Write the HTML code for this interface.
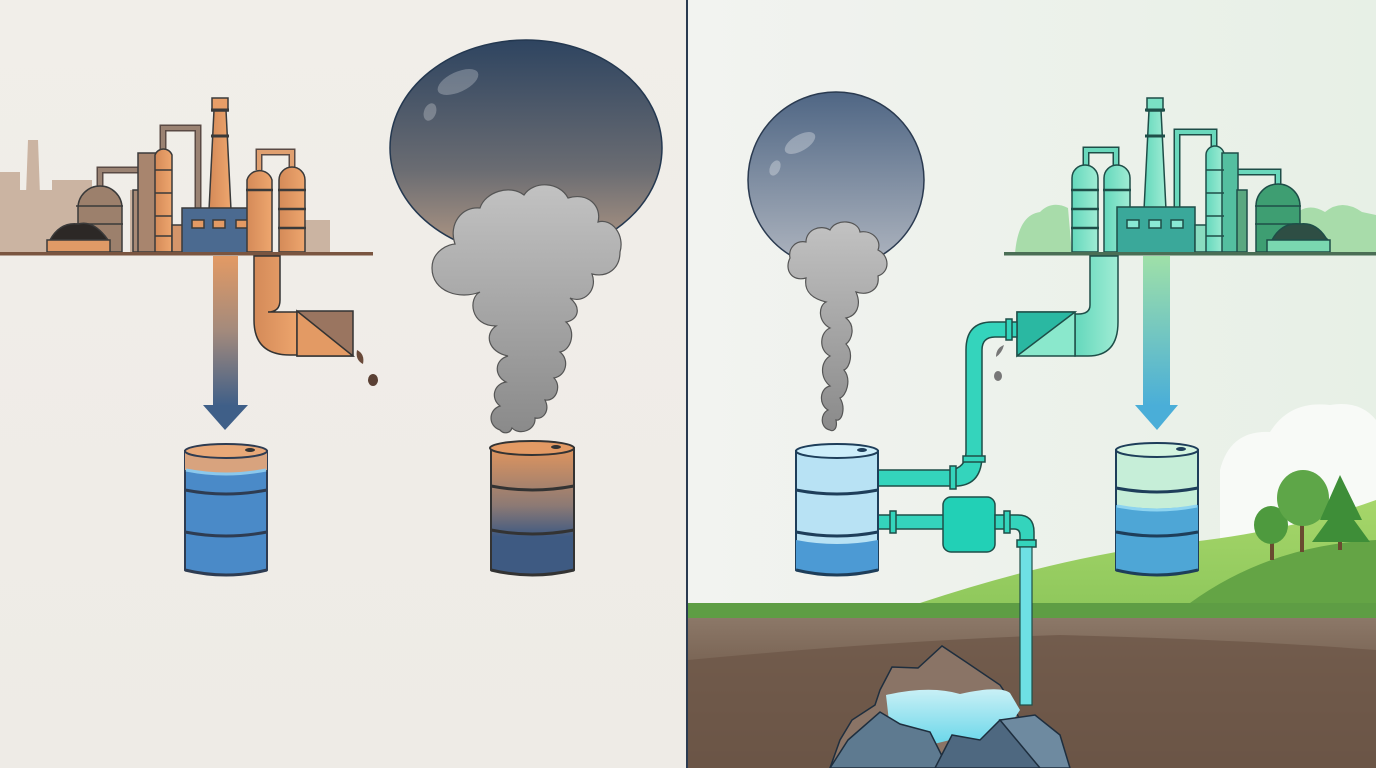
<!DOCTYPE html>
<html><head><meta charset="utf-8"><style>html,body{margin:0;padding:0;width:1376px;height:768px;overflow:hidden}svg{display:block}</style></head><body>
<svg width="1376" height="768" viewBox="0 0 1376 768" xmlns="http://www.w3.org/2000/svg">
<defs>
<linearGradient id="lbg" x1="0" y1="0" x2="0" y2="1"><stop offset="0" stop-color="#f1eee9"/><stop offset="1" stop-color="#eeebe6"/></linearGradient>
<linearGradient id="rbg" x1="0" y1="0" x2="1" y2="0"><stop offset="0" stop-color="#f2f3f0"/><stop offset="1" stop-color="#e7f0e6"/></linearGradient>
<linearGradient id="arrL" x1="0" y1="0" x2="0" y2="1"><stop offset="0" stop-color="#e39a64"/><stop offset="0.5" stop-color="#a38a7c"/><stop offset="1" stop-color="#3f5f88"/></linearGradient>
<linearGradient id="arrR" x1="0" y1="0" x2="0" y2="1"><stop offset="0" stop-color="#9fe0a8"/><stop offset="1" stop-color="#4aaed8"/></linearGradient>
<linearGradient id="bub1" x1="0" y1="0" x2="0" y2="1"><stop offset="0" stop-color="#2e4460"/><stop offset="0.6" stop-color="#6a6c72"/><stop offset="1" stop-color="#b59a85"/></linearGradient>
<linearGradient id="bub2" x1="0" y1="0" x2="0" y2="1"><stop offset="0" stop-color="#4f6684"/><stop offset="1" stop-color="#b0b6c0"/></linearGradient>
<linearGradient id="smoke" x1="0" y1="0" x2="0" y2="1"><stop offset="0" stop-color="#c2c2c2"/><stop offset="1" stop-color="#8a8a8a"/></linearGradient>
<linearGradient id="brl2" x1="0" y1="0" x2="0" y2="1"><stop offset="0" stop-color="#e0955e"/><stop offset="0.45" stop-color="#8d7a74"/><stop offset="0.7" stop-color="#3e5a82"/><stop offset="1" stop-color="#3e5a82"/></linearGradient>
<linearGradient id="cop" x1="0" y1="0" x2="1" y2="0"><stop offset="0" stop-color="#d48a58"/><stop offset="1" stop-color="#eea66e"/></linearGradient>
<linearGradient id="tq" x1="0" y1="0" x2="1" y2="0"><stop offset="0" stop-color="#64d8bc"/><stop offset="1" stop-color="#a0ecd4"/></linearGradient>
<linearGradient id="grnd" x1="0" y1="0" x2="0" y2="1"><stop offset="0" stop-color="#8c7868"/><stop offset="0.3" stop-color="#7a6555"/><stop offset="1" stop-color="#5e4a3d"/></linearGradient>
<linearGradient id="wat" x1="0" y1="0" x2="0" y2="1"><stop offset="0" stop-color="#c9f0f6"/><stop offset="1" stop-color="#60d4e8"/></linearGradient>
<linearGradient id="hill1" x1="0" y1="0" x2="0" y2="1"><stop offset="0" stop-color="#a6d66a"/><stop offset="1" stop-color="#8cc65a"/></linearGradient>
</defs>
<rect x="0" y="0" width="688" height="768" fill="url(#lbg)"/>
<rect x="688" y="0" width="688" height="768" fill="url(#rbg)"/>
<g fill="#cbb4a2">
<rect x="0" y="172" width="20" height="82"/><rect x="0" y="190" width="52" height="64"/><polygon points="24,250 28,140 38,140 42,250"/><rect x="52" y="180" width="40" height="74"/><rect x="300" y="220" width="30" height="34"/><rect x="130" y="190" width="12" height="64"/>
</g>
<g stroke="#3a3a3a" stroke-width="1.5">
<path d="M100,188 V170 H145" fill="none" stroke="#5a4a44" stroke-width="7"/>
<path d="M100,188 V170 H145" fill="none" stroke="#9a8272" stroke-width="4"/>
<path d="M163,150 V128 H198 V210" fill="none" stroke="#5a4a44" stroke-width="7"/>
<path d="M163,150 V128 H198 V210" fill="none" stroke="#9a8272" stroke-width="4"/>
<path d="M259,170 V152 H292 V170" fill="none" stroke="#5a4a44" stroke-width="7"/>
<path d="M259,170 V152 H292 V170" fill="none" stroke="#e0a070" stroke-width="4"/>
<path d="M78,252 V208 A22,22 0 0 1 122,208 V252 Z" fill="#9c806c"/>
<line x1="76" y1="206" x2="123" y2="206"/><line x1="76" y1="224" x2="123" y2="224"/>
<path d="M50,240 Q60,222 78,224 Q92,220 105,236 L108,240 Z" fill="#2c2826"/>
<rect x="47" y="240" width="63" height="12" fill="#e09a66"/>
<rect x="133" y="190" width="10" height="62" fill="#a88a76"/>
<rect x="138" y="153" width="18" height="99" fill="#a8856e"/>
<path d="M155,252 V155 A9,9 0 0 1 172,155 V252 Z" fill="url(#cop)"/>
<line x1="155" y1="170" x2="172" y2="170"/><line x1="155" y1="193" x2="172" y2="193"/><line x1="155" y1="216" x2="172" y2="216"/><line x1="155" y1="236" x2="172" y2="236"/>
<polygon points="214,110 226,110 231,210 209,210" fill="url(#cop)"/>
<rect x="212" y="98" width="16" height="13" fill="#e89e68"/>
<line x1="211" y1="110" x2="229" y2="110" stroke-width="3"/><line x1="211" y1="136" x2="229" y2="136" stroke-width="3"/>
<rect x="172" y="225" width="12" height="27" fill="#d4956a"/>
<rect x="182" y="208" width="76" height="46" fill="#4b6a90"/>
<rect x="192" y="220" width="12" height="8" fill="#e39a64"/><rect x="213" y="220" width="12" height="8" fill="#e39a64"/><rect x="236" y="220" width="12" height="8" fill="#e39a64"/>
<path d="M247,252 V180 A13,13 0 0 1 272,180 V252 Z" fill="url(#cop)"/>
<path d="M279,252 V180 A13,13 0 0 1 305,180 V252 Z" fill="url(#cop)"/>
<line x1="246" y1="190" x2="273" y2="190" stroke-width="2.5"/><line x1="278" y1="190" x2="306" y2="190" stroke-width="2.5"/><line x1="278" y1="209" x2="306" y2="209" stroke-width="2.5"/><line x1="278" y1="228" x2="306" y2="228" stroke-width="2.5"/>
</g>
<rect x="0" y="252" width="373" height="3.5" fill="#7a5540"/>
<rect x="213" y="256" width="25" height="150" fill="url(#arrL)"/>
<polygon points="203,405 248,405 225,430" fill="#3f5f88"/>
<path d="M254,256 V320 Q254,355 290,355 H300 V312 H268 Q280,312 280,300 V256 Z" fill="url(#cop)" stroke="#333" stroke-width="1.5"/>
<polygon points="297,311 353,311 353,356 297,356" fill="#9a7560" stroke="#333" stroke-width="1.5"/>
<polygon points="297,311 353,356 297,356" fill="#e39a64" stroke="#333" stroke-width="1.5"/>
<path d="M357,350 q8,4 6,14 q-8,-4 -6,-14z" fill="#6a4a3a"/>
<ellipse cx="373" cy="380" rx="5" ry="6" fill="#5a4034"/>
<g stroke="#2e3c52" stroke-width="2">
<path d="M185,451 V570 Q226,580 267,570 V451 Z" fill="#4a8ac8"/>
<path d="M185,451 V470 Q226,478 267,470 V451 Z" fill="#d8a37e" stroke="none"/>
<path d="M186,470 Q226,478 266,470" fill="none" stroke="#8bc8ec" stroke-width="3"/>
<ellipse cx="226" cy="451" rx="41" ry="7" fill="#e8a878"/>
<ellipse cx="250" cy="450" rx="5" ry="2" fill="#333" stroke="none"/>
<path d="M185,490 Q226,498 267,490" fill="none" stroke-width="3"/><path d="M185,532 Q226,540 267,532" fill="none" stroke-width="3"/>
<path d="M185,570 Q226,580 267,570" fill="none" stroke-width="3"/>
</g>
<ellipse cx="526" cy="148" rx="136" ry="108" fill="url(#bub1)" stroke="#243850" stroke-width="1.5"/>
<ellipse cx="458" cy="82" rx="22" ry="10" transform="rotate(-25 458 82)" fill="#fff" opacity="0.25"/>
<ellipse cx="430" cy="112" rx="6" ry="9" transform="rotate(20 430 112)" fill="#fff" opacity="0.25"/>
<g fill="url(#smoke)" stroke="#555" stroke-width="1.2">
<path d="M500,430 C488,426 488,410 500,406 C490,398 494,384 506,382 C494,376 494,360 508,356 C488,352 484,334 496,326 C470,326 468,298 480,292 C460,300 432,292 432,268 C432,250 450,244 455,244 C448,224 462,206 480,208 C485,192 510,184 524,195 C534,180 560,182 568,198 C588,192 602,206 598,222 C612,218 625,235 620,252 C620,268 608,278 592,274 C598,290 584,304 570,298 C582,308 578,320 566,322 C576,330 572,350 560,352 C570,360 566,376 554,378 C562,386 556,402 545,400 C550,410 544,420 535,418 C536,430 520,436 512,428 C510,434 503,434 500,430 Z"/>
</g>
<g stroke="#333" stroke-width="2">
<path d="M491,448 V570 Q532,580 574,570 V448 Z" fill="url(#brl2)"/>
<ellipse cx="532" cy="448" rx="42" ry="7" fill="#e39a64"/>
<ellipse cx="556" cy="447" rx="5" ry="2" fill="#333" stroke="none"/>
<path d="M491,486 Q532,494 574,486" fill="none" stroke-width="3"/><path d="M491,530 Q532,538 574,530" fill="none" stroke-width="3"/><path d="M491,570 Q532,580 574,570" fill="none" stroke-width="3"/>
</g>
<rect x="686" y="0" width="2" height="768" fill="#2a3a50"/>
<!-- RIGHT -->
<path d="M1220,470 Q1230,430 1270,432 Q1290,400 1330,405 Q1360,400 1376,420 V560 H1220 Z" fill="#fafbf8" opacity="0.9"/>
<path d="M688,603 L920,603 Q1050,560 1160,545 Q1280,535 1376,500 V620 H688 Z" fill="url(#hill1)"/>
<path d="M1190,603 Q1270,545 1376,540 V620 H1190 Z" fill="#64a445"/>
<rect x="688" y="603" width="688" height="16" fill="#5e9d44"/>
<rect x="688" y="618" width="688" height="150" fill="url(#grnd)"/>
<path d="M688,660 Q900,640 1060,635 Q1250,640 1376,650 V768 H688 Z" fill="#6e5849" opacity="0.8"/>
<polygon points="880,690 892,667 918,668 942,646 966,662 1000,685 1010,700 1020,720 1040,740 1060,760 1065,768 830,768 840,740 852,720 875,705" fill="#8a7466" stroke="#1e2e3e" stroke-width="1.5"/>
<path d="M886,695 Q930,685 960,694 Q1000,685 1010,693 L1020,710 L1000,740 L975,748 L950,740 L910,750 L890,730 Z" fill="url(#wat)"/>
<polygon points="848,740 880,712 900,724 930,732 948,768 830,768" fill="#5e7a90" stroke="#1e2e3e" stroke-width="1.5"/>
<polygon points="935,768 952,735 980,740 1000,720 1030,730 1050,750 1060,768" fill="#4e6880" stroke="#1e2e3e" stroke-width="1.5"/>
<polygon points="1000,720 1035,715 1060,735 1070,768 1040,768" fill="#6e8aa0" stroke="#1e2e3e" stroke-width="1.5"/>
<rect x="1270" y="525" width="4" height="35" fill="#6a4a30"/><ellipse cx="1271" cy="525" rx="17" ry="19" fill="#4e9a3e"/>
<rect x="1300" y="500" width="4" height="52" fill="#6a4a30"/><ellipse cx="1303" cy="498" rx="26" ry="28" fill="#5ea648"/>
<rect x="1338" y="520" width="4" height="30" fill="#6a4a30"/><polygon points="1340,475 1362,520 1354,520 1370,542 1312,542 1328,520 1320,520" fill="#3e8e38"/>
<!-- right factory -->
<path d="M1015,254 Q1018,215 1040,212 Q1052,200 1068,208 L1072,254 Z" fill="#a8dcaa"/>
<path d="M1290,220 Q1305,200 1325,212 Q1342,198 1362,212 L1376,215 V254 H1290 Z" fill="#a8dcaa"/>
<g stroke="#1e4e48" stroke-width="1.5">
<path d="M1086,168 V150 H1116 V168" fill="none" stroke="#1e4e48" stroke-width="7"/><path d="M1086,168 V150 H1116 V168" fill="none" stroke="#6ad8bc" stroke-width="4"/>
<path d="M1177,210 V132 H1214 V150" fill="none" stroke="#1e4e48" stroke-width="7"/><path d="M1177,210 V132 H1214 V150" fill="none" stroke="#6ad8bc" stroke-width="4"/>
<path d="M1236,172 H1278 V188" fill="none" stroke="#1e4e48" stroke-width="7"/><path d="M1236,172 H1278 V188" fill="none" stroke="#6ad8bc" stroke-width="4"/>
<path d="M1072,252 V178 A13,13 0 0 1 1098,178 V252 Z" fill="url(#tq)"/>
<path d="M1104,252 V178 A13,13 0 0 1 1130,178 V252 Z" fill="url(#tq)"/>
<line x1="1071" y1="190" x2="1099" y2="190" stroke-width="2.5"/><line x1="1071" y1="209" x2="1099" y2="209" stroke-width="2.5"/><line x1="1071" y1="228" x2="1099" y2="228" stroke-width="2.5"/><line x1="1103" y1="190" x2="1131" y2="190" stroke-width="2.5"/>
<polygon points="1149,110 1161,110 1166,210 1144,210" fill="url(#tq)"/>
<rect x="1147" y="98" width="16" height="13" fill="#7ae0c4"/>
<line x1="1145" y1="110" x2="1165" y2="110" stroke-width="3"/><line x1="1145" y1="136" x2="1165" y2="136" stroke-width="3"/>
<rect x="1117" y="207" width="78" height="47" fill="#3aa89a"/>
<rect x="1127" y="220" width="12" height="8" fill="#8ae8d4"/><rect x="1149" y="220" width="12" height="8" fill="#8ae8d4"/><rect x="1171" y="220" width="12" height="8" fill="#8ae8d4"/>
<rect x="1195" y="225" width="12" height="27" fill="#8adcc0"/>
<path d="M1206,252 V155 A9,9 0 0 1 1224,155 V252 Z" fill="url(#tq)"/>
<rect x="1222" y="153" width="16" height="99" fill="#54bfa0"/>
<rect x="1237" y="190" width="10" height="62" fill="#5aa880"/>
<line x1="1206" y1="170" x2="1224" y2="170"/><line x1="1206" y1="193" x2="1224" y2="193"/><line x1="1206" y1="216" x2="1224" y2="216"/><line x1="1206" y1="236" x2="1224" y2="236"/>
<path d="M1256,252 V206 A22,22 0 0 1 1300,206 V252 Z" fill="#3e9e72"/>
<line x1="1255" y1="206" x2="1301" y2="206"/><line x1="1255" y1="224" x2="1301" y2="224"/>
<path d="M1272,240 Q1282,222 1300,224 Q1316,222 1326,238 L1328,240 Z" fill="#2e4e44"/>
<rect x="1267" y="240" width="63" height="12" fill="#7ad8b0"/>
</g>
<rect x="1004" y="252" width="372" height="3.5" fill="#4a6e55"/>
<rect x="1143" y="256" width="27" height="150" fill="url(#arrR)"/>
<polygon points="1135,405 1178,405 1157,430" fill="#4aaed8"/>
<g stroke="#1e4e48" stroke-width="1.5">
<path d="M1090,256 V305 Q1090,314 1078,314 H1075 V356 H1088 Q1118,356 1118,322 V256 Z" fill="url(#tq)"/>
<polygon points="1017,312 1075,312 1075,356 1017,356" fill="#8ae8cc"/>
<polygon points="1017,312 1075,312 1017,356" fill="#2ab8a2"/>
<path d="M1017,322 H992 Q966,322 966,350 V452 Q966,468 950,470 H878 V486 H958 Q982,484 982,455 V350 Q982,337 995,337 H1017 Z" fill="#34d4bc"/>
<rect x="1006" y="319" width="6" height="21" fill="#34d4bc"/>
<rect x="963" y="456" width="22" height="6" fill="#34d4bc"/>
<rect x="950" y="466" width="6" height="23" fill="#34d4bc"/>
<path d="M878,515 H944 V529 H878 Z" fill="#34d4bc"/>
<rect x="890" y="511" width="6" height="22" fill="#34d4bc"/>
<rect x="943" y="497" width="52" height="55" rx="8" fill="#22d0b6"/>
<path d="M995,515 H1018 Q1034,515 1034,532 V540 H1020 V535 Q1020,529 1014,529 H995 Z" fill="#34d4bc"/>
<rect x="1004" y="511" width="6" height="22" fill="#34d4bc"/>
<rect x="1017" y="540" width="19" height="7" fill="#34d4bc"/>
</g>
<rect x="1020" y="547" width="12" height="158" fill="#6ee0e4" stroke="#1e4e48" stroke-width="1.2"/>
<path d="M1004,345 q-2,8 -8,12 q0,-9 8,-12z" fill="#777"/>
<ellipse cx="998" cy="376" rx="4" ry="5" fill="#777"/>
<circle cx="836" cy="180" r="88" fill="url(#bub2)" stroke="#2a3a50" stroke-width="1.5"/>
<ellipse cx="800" cy="143" rx="17" ry="8" transform="rotate(-30 800 143)" fill="#fff" opacity="0.3"/>
<ellipse cx="775" cy="168" rx="5" ry="8" transform="rotate(25 775 168)" fill="#fff" opacity="0.3"/>
<g fill="url(#smoke)" stroke="#555" stroke-width="1.2">
<path d="M830,430 C820,428 820,414 828,410 C818,404 820,388 830,386 C820,378 820,362 830,356 C818,350 820,332 830,328 C818,322 818,306 826,302 C810,298 804,290 806,278 C792,282 784,270 790,258 C788,248 796,240 806,242 C806,230 820,224 830,230 C836,218 858,220 860,232 C872,230 882,240 878,250 C890,256 890,272 878,276 C880,290 868,296 856,292 C862,306 856,316 846,318 C856,326 852,340 846,344 C854,352 850,368 844,370 C852,380 846,396 840,398 C846,408 842,422 836,420 C838,430 832,432 830,430 Z"/>
</g>
<g stroke="#1e3e5a" stroke-width="2">
<path d="M796,451 V570 Q837,580 878,570 V451 Z" fill="#b8e2f4"/>
<path d="M796,540 V570 Q837,580 878,570 V540 Q837,548 796,540 Z" fill="#4c9ad4" stroke="none"/>
<ellipse cx="837" cy="451" rx="41" ry="7" fill="#cdeefa"/>
<ellipse cx="862" cy="450" rx="5" ry="2" fill="#1e3e5a" stroke="none"/>
<path d="M796,490 Q837,498 878,490" fill="none" stroke-width="3"/><path d="M796,532 Q837,540 878,532" fill="none" stroke-width="3"/><path d="M796,570 Q837,580 878,570" fill="none" stroke-width="3"/>
</g>
<g stroke="#1e3e5a" stroke-width="2">
<path d="M1116,450 V570 Q1157,580 1198,570 V450 Z" fill="#c6eed8"/>
<path d="M1116,505 V570 Q1157,580 1198,570 V505 Q1157,512 1116,505 Z" fill="#4ea6d6" stroke="none"/>
<path d="M1117,506 Q1157,514 1197,506" fill="none" stroke="#8ed4f0" stroke-width="3"/>
<ellipse cx="1157" cy="450" rx="41" ry="7" fill="#d4f4e0"/>
<ellipse cx="1181" cy="449" rx="5" ry="2" fill="#1e3e5a" stroke="none"/>
<path d="M1116,488 Q1157,496 1198,488" fill="none" stroke-width="3"/><path d="M1116,532 Q1157,540 1198,532" fill="none" stroke-width="3"/><path d="M1116,570 Q1157,580 1198,570" fill="none" stroke-width="3"/>
</g>
</svg>
</body></html>
